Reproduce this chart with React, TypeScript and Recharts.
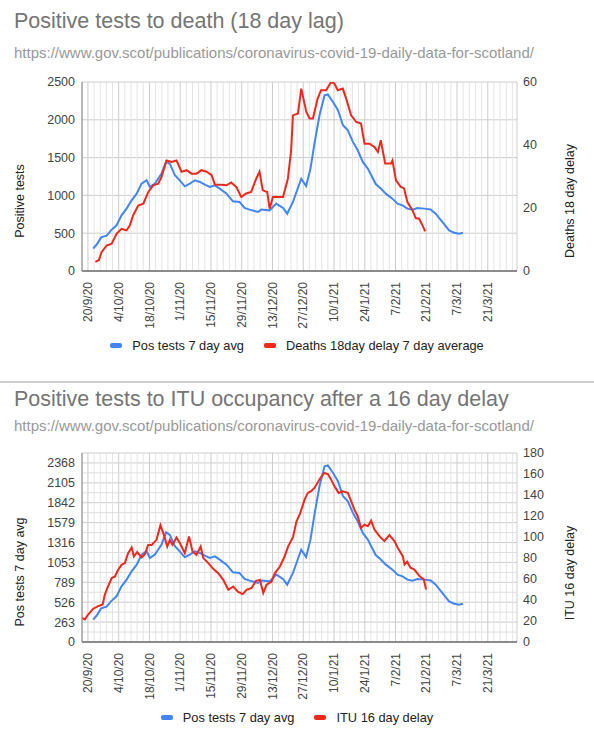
import { LineChart, Line, XAxis, YAxis, CartesianGrid, ReferenceLine } from 'recharts'

const FONT = '"Liberation Sans", Arial, sans-serif'
const BLUE = '#4285f4'
const RED = '#f0281c'

// x values are days after 20/9/20
const xTickDays = [0, 14, 28, 42, 56, 70, 84, 98, 112, 126, 140, 154, 168, 182]
const xTickLabels = [
  '20/9/20', '4/10/20', '18/10/20', '1/11/20', '15/11/20', '29/11/20', '13/12/20',
  '27/12/20', '10/1/21', '24/1/21', '7/2/21', '21/2/21', '7/3/21', '21/3/21',
]

const posDays = [
  2.4, 4, 6, 8.5, 10.5, 13, 15.3, 17.6, 19.9, 22.2, 24.4, 26.7, 28.2, 30.5, 33.5, 35.6, 37.3, 39.6,
  41.9, 44.1, 46.4, 48.7, 51, 53.2, 55.5, 57.8, 60, 63.1, 66, 69, 71.3, 73.6, 77.4, 78.9, 82.7, 85.7,
  88.8, 90.7, 93.3, 97.1, 99.3, 101.3, 103.1, 105.4, 107.7, 109.2, 111.5, 113.8, 116.1, 118.3, 120.6,
  122.8, 125.1, 127.4, 131, 133.3, 135.6, 138.6, 140.9, 143.2, 145.4, 147.7, 150, 153, 156, 158.3,
  161.3, 164.4, 166.7, 169, 170.7,
]
const posValues = [
  298, 350, 445, 468, 538, 604, 736, 825, 935, 1023, 1156, 1200, 1112, 1156, 1288, 1450, 1416, 1266,
  1195, 1120, 1156, 1200, 1178, 1143, 1112, 1133, 1090, 1023, 922, 913, 834, 812, 781, 812, 802, 891,
  834, 758, 913, 1222, 1125, 1354, 1686, 2060, 2325, 2335, 2238, 2127, 1928, 1862, 1708,
  1597, 1443, 1354, 1150, 1090, 1023, 957, 891, 869, 825, 812, 834, 825, 815, 758,
  649, 538, 507, 494, 507,
]

const deathDays = [
  3.4, 5, 6.2, 8.5, 10.8, 13.1, 15.3, 17.6, 19.1, 20.6, 22.9, 25.2, 27.5, 29.7, 32, 33.5, 35.8, 38.1,
  40.3, 42.6, 44.9, 47.2, 49.4, 51.7, 54, 56.3, 57.8, 60.8, 63.1, 65.2, 67.5, 69.8, 72, 74.3, 76.6,
  78.1, 79.6, 81.6, 82.7, 84.2, 88.8, 91, 92.5, 93.3, 95.6, 97.1, 99.4, 100.9, 102.4, 104.6, 106.1,
  108.4, 110.7, 112.2, 113.7, 116, 117.5, 119.8, 122.1, 124.3, 125.9, 128.1, 130.4, 132, 133.3, 135.3,
  137.9, 138.6, 140.2, 142.4, 143.9, 145.4, 147.7, 149.2, 150.7, 152.3, 153.5,
]
const deathValues = [
  2.9, 3.5, 6, 8.1, 8.7, 11.9, 13.4, 12.9, 14.5, 17.7, 20.8, 21.4, 25.1, 27.2, 27.7, 29.9, 35.1, 34.6,
  35.1, 31.5, 32, 30.9, 30.9, 32, 31.5, 30.4, 27.4, 27.4, 27.2, 28.1, 26.7, 23.5, 24.6, 25.1, 29.3,
  31.5, 25.6, 25.1, 19.8, 23.5, 23.5, 29.3, 38.3, 49.4, 50, 57.9, 50.5, 48.4, 48.4, 54.8, 57.4,
  57.4, 60, 59.5, 57.4, 57.9, 54.8, 49.4, 47.3, 46.8, 40.4, 40.4, 39.4, 37.8, 41.5, 34.1,
  34.1, 35.1, 28.8, 26.7, 26.2, 21.9, 19.3, 16.8, 16.6, 14.5, 12.6,
]

const ituDays = [
  -2.7, -1.4, 0.1, 2.4, 4.7, 6.7, 7.7, 8.5, 10.8, 12.3, 13.8, 15.3, 16.8, 18.3, 19.9, 20.9, 22.4, 24.4,
  25.9, 27.4, 29, 31.2, 33, 34.6, 36.1, 37.3, 38.5, 40.3, 41.9, 44.1, 46, 47.6, 49.4, 51.3, 52.5, 54.8,
  57, 59.3, 61.6, 63.9, 66.1, 68.4, 70.4, 72.2, 74.5, 76.5, 78.3, 79.8, 81.3, 83.6, 85.1, 87.4, 89.5,
  91.1, 93.4, 94.9, 96.5, 98.6, 100.1, 101.6, 103.1, 105.8, 107.6, 109.2, 110.7, 112.2, 114.1, 116,
  118.3, 119.8, 121.3, 122.8, 124.3, 125.9, 127.4, 128.9, 130.4, 132.7, 134.9, 137.2, 139.5, 141,
  143.3, 144.1, 145.3, 146.8, 148.6, 150.9, 152.9, 153.9,
]
const ituValues = [
  23, 21.5, 26.2, 31.7, 34.2, 35.8, 45.3, 49.7, 60.9, 62.4, 68.8, 73.5, 75.1, 84.6, 90, 81.4, 85.6, 80.5,
  83.7, 92.5, 92.5, 97.3, 111.3, 101.8, 90.9, 97.3, 92.5, 99.5, 94.1, 84.6, 100.4, 86.2, 83, 90.9, 79.9, 75.1,
  69.7, 65.6, 59.2, 49.7, 52.9, 47.6, 45.6, 49.7, 51.4, 58.3, 59.2, 46.6, 54.5, 57.6, 65.6, 71.9, 81.4,
  90.9, 100.4, 114.7, 122, 135.6, 142, 143.6, 146.7, 156.2, 161, 160, 154.6, 148.4, 142, 143.6,
  142, 134.1, 126.1, 119.8, 108.7, 111.8, 110.3, 115.6, 107.1, 100.8, 96.1, 101.8, 96.1, 89.7,
  81.8, 73.8, 76.4, 70.7, 69, 62.8, 59.5, 50,
]

const deathsLeftTicks = [0, 500, 1000, 1500, 2000, 2500]
const deathsRightTicks = [0, 20, 40, 60]
const ituLeftTicks = [0, 263.16, 526.32, 789.47, 1052.63, 1315.79, 1578.95, 1842.11, 2105.26, 2368.42]
const ituRightTicks = [0, 20, 40, 60, 80, 100, 120, 140, 160, 180]

const xDomain: [number, number] = [-2.7, 195.3]
// minor gridlines: 5 per 14 day step, and half steps on the ITU left axis
const minorXTicks: number[] = []
for (let t = 2.8; t <= xDomain[1]; t += 2.8) {
  const r = Math.round(t * 10) / 10
  if (!xTickDays.includes(r)) minorXTicks.push(r)
}
const ituMinorTicks: number[] = []
for (let k = 1; k < 19; k += 2) ituMinorTicks.push((2500 * k) / 19)

const toPoints = (days: number[], vals: number[]) => days.map((d, i) => ({ d, v: vals[i] }))

const DateTick = ({ x, y, payload }: any) => {
  const i = xTickDays.indexOf(payload.value)
  return (
    <g transform={`translate(${x},${y})`}>
      <text transform="rotate(-90)" x={-3} dy="0.35em" textAnchor="end" fill="#444" fontSize={12} fontFamily={FONT}>
        {xTickLabels[i]}
      </text>
    </g>
  )
}

interface PanelProps {
  top: number
  leftTicks: number[]
  leftMinor: number[]
  rightTicks: number[]
  rightMax: number
  redPoints: { d: number; v: number }[]
  redName: string
}

function Panel({ top, leftTicks, leftMinor, rightTicks, rightMax, redPoints, redName }: PanelProps) {
  const tickStyle = { fill: '#444', fontSize: 12.5, fontFamily: FONT }
  return (
    <div style={{ position: 'absolute', left: 0, top }}>
      <LineChart width={594} height={341} margin={{ top: 82, right: 0, bottom: 10, left: 0 }}>
        <CartesianGrid yAxisId="left" stroke="#cccccc" />
        <XAxis
          type="number"
          dataKey="d"
          domain={xDomain}
          ticks={xTickDays}
          allowDataOverflow
          interval={0}
          tick={<DateTick />}
          tickLine={false}
          axisLine={{ stroke: '#333' }}
          height={60}
        />
        <YAxis
          yAxisId="left"
          type="number"
          domain={[0, 2500]}
          ticks={leftTicks}
          interval={0}
          tickFormatter={(v: number) => String(Math.round(v))}
          tick={tickStyle}
          tickLine={false}
          tickSize={5}
          tickMargin={2}
          axisLine={{ stroke: '#888' }}
          width={82}
          allowDataOverflow
        />
        <YAxis
          yAxisId="right"
          orientation="right"
          type="number"
          domain={[0, rightMax]}
          ticks={rightTicks}
          interval={0}
          tick={{ ...tickStyle, textAnchor: 'start' }}
          tickLine={false}
          tickSize={4}
          tickMargin={2}
          axisLine={false}
          width={77}
          allowDataOverflow
        />
        {minorXTicks.map((t) => (
          <ReferenceLine key={`mx${t}`} yAxisId="left" x={t} stroke="#e4e4e4" strokeWidth={1} />
        ))}
        {leftMinor.map((t) => (
          <ReferenceLine key={`my${t}`} yAxisId="left" y={t} stroke="#dedede" strokeWidth={1} />
        ))}
        <Line
          yAxisId="left"
          data={toPoints(posDays, posValues)}
          dataKey="v"
          name="Pos tests 7 day avg"
          type="linear"
          stroke={BLUE}
          strokeWidth={2}
          dot={false}
          isAnimationActive={false}
        />
        <Line
          yAxisId="right"
          data={redPoints}
          dataKey="v"
          name={redName}
          type="linear"
          stroke={RED}
          strokeWidth={2}
          dot={false}
          isAnimationActive={false}
        />
      </LineChart>
    </div>
  )
}

const Title = ({ top, size, color, children }: any) => (
  <div style={{ position: 'absolute', left: 14, top, fontSize: size, lineHeight: `${size}px`, color, whiteSpace: 'nowrap', fontFamily: FONT }}>
    {children}
  </div>
)

const AxisTitle = ({ cx, cy, children }: any) => (
  <div
    style={{
      position: 'absolute',
      left: cx,
      top: cy,
      transform: 'translate(-50%, -50%) rotate(-90deg)',
      whiteSpace: 'nowrap',
      fontSize: 12.5,
      color: '#222',
      fontFamily: FONT,
    }}
  >
    {children}
  </div>
)

const LegendRow = ({ cy, items }: { cy: number; items: { label: string; color: string }[] }) => (
  <div
    style={{
      position: 'absolute',
      left: 0,
      top: cy - 8,
      width: 594,
      height: 16,
      display: 'flex',
      justifyContent: 'center',
      alignItems: 'center',
      gap: 20,
      fontFamily: FONT,
      fontSize: 12.8,
      color: '#222',
    }}
  >
    {items.map((it) => (
      <div key={it.label} style={{ display: 'flex', alignItems: 'center' }}>
        <span style={{ display: 'inline-block', width: 12, height: 5, borderRadius: 2, background: it.color, marginRight: 10 }} />
        <span>{it.label}</span>
      </div>
    ))}
  </div>
)

export default function App() {
  return (
    <div style={{ position: 'relative', width: 594, height: 738, background: '#fff', overflow: 'hidden' }}>
      <style>{'body{margin:0}'}</style>
      <Title top={11} size={21.5} color="#757575">Positive tests to death (18 day lag)</Title>
      <Title top={45} size={15} color="#999">https://www.gov.scot/publications/coronavirus-covid-19-daily-data-for-scotland/</Title>
      <Panel
        top={0}
        leftTicks={deathsLeftTicks}
        leftMinor={[]}
        rightTicks={deathsRightTicks}
        rightMax={60}
        redPoints={toPoints(deathDays, deathValues)}
        redName="Deaths 18day delay 7 day average"
      />
      <AxisTitle cx={20} cy={201}>Positive tests</AxisTitle>
      <AxisTitle cx={570} cy={201}>Deaths 18 day delay</AxisTitle>
      <LegendRow
        cy={345}
        items={[
          { label: 'Pos tests 7 day avg', color: BLUE },
          { label: 'Deaths 18day delay 7 day average', color: RED },
        ]}
      />
      <div style={{ position: 'absolute', left: 0, top: 381, width: 594, height: 2, background: '#cfcfcf' }} />
      <Title top={389} size={21.5} color="#757575">Positive tests to ITU occupancy after a 16 day delay</Title>
      <Title top={418} size={15} color="#999">https://www.gov.scot/publications/coronavirus-covid-19-daily-data-for-scotland/</Title>
      <Panel
        top={371}
        leftTicks={ituLeftTicks}
        leftMinor={ituMinorTicks}
        rightTicks={ituRightTicks}
        rightMax={180}
        redPoints={toPoints(ituDays, ituValues)}
        redName="ITU 16 day delay"
      />
      <AxisTitle cx={20} cy={572}>Pos tests 7 day avg</AxisTitle>
      <AxisTitle cx={570} cy={573}>ITU 16 day delay</AxisTitle>
      <LegendRow
        cy={717}
        items={[
          { label: 'Pos tests 7 day avg', color: BLUE },
          { label: 'ITU 16 day delay', color: RED },
        ]}
      />
    </div>
  )
}
